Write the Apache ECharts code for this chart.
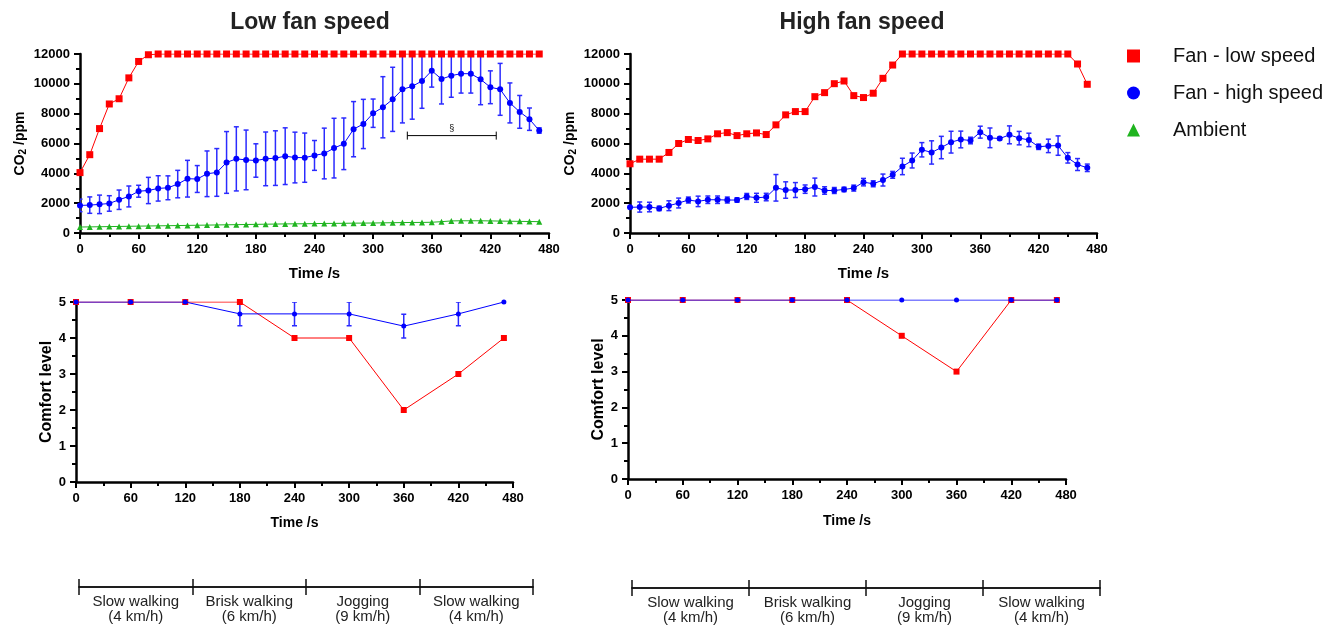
<!DOCTYPE html>
<html>
<head>
<meta charset="utf-8">
<title>CO2 and comfort level vs time</title>
<script src="https://cdn.jsdelivr.net/npm/echarts@6/dist/echarts.min.js"></script>
<style>
  html, body { margin: 0; padding: 0; background: #fff; }
  #chart { width: 1327px; height: 625px; }
</style>
</head>
<body>
<div id="chart"></div>
<script>
// sampling times of the CO2 traces, s
var times = [0,10,20,30,40,50,60,70,80,90,100,110,120,130,140,150,160,170,180,190,
  200,210,220,230,240,250,260,270,280,290,300,310,320,330,340,350,360,370,380,390,
  400,410,420,430,440,450,460,470];

// left panel (low fan speed)
var lowRed = [4050,5250,7000,8650,9000,10400,11500,11950,12000,12000,
  12000,12000,12000,12000,12000,12000,12000,12000,12000,12000,
  12000,12000,12000,12000,12000,12000,12000,12000,12000,12000,
  12000,12000,12000,12000,12000,12000,12000,12000,12000,12000,
  12000,12000,12000,12000,12000,12000,12000,12000];
var lowBlue = [1850,1870,1920,1980,2230,2450,2800,2850,2990,3030,
  3280,3640,3620,3970,4060,4730,4970,4900,4860,4970,
  5020,5150,5060,5050,5200,5330,5690,5980,6960,7310,
  8030,8430,8960,9630,9830,10190,10880,10320,10550,10680,
  10680,10300,9770,9630,8720,8120,7630,6870];
var lowBlueSd = [420,550,620,520,650,700,400,880,850,800,
  920,1230,900,1530,1600,2070,2150,2000,1120,1800,
  1830,1900,1700,1650,1000,1700,2000,1730,1850,1650,
  950,2050,2150,2250,2200,1830,1100,1670,1450,1300,
  1300,1700,1100,1740,1340,1100,750,180];
var lowAmbient = [400,410,420,430,440,450,460,470,480,490,
  500,510,520,530,540,550,560,570,580,590,
  600,610,615,620,630,640,645,650,660,665,
  670,680,690,700,705,710,720,760,810,820,
  820,820,810,800,790,780,770,760];
// § bracket: from, to, level
var sectionSpan = [[335, 426, 6530]];

// right panel (high fan speed)
var highRed = [4640,4950,4950,4950,5400,6000,6270,6200,6310,6650,
  6730,6530,6650,6710,6600,7250,7920,8140,8140,9140,
  9410,10010,10190,9210,9080,9370,10370,11260,12000,12000,
  12000,12000,12000,12000,12000,12000,12000,12000,12000,12000,
  12000,12000,12000,12000,12000,12000,11330,9970];
var highBlue = [1720,1740,1740,1650,1830,2010,2210,2120,2230,2230,
  2210,2210,2450,2360,2410,3030,2880,2880,2940,3080,
  2850,2850,2920,3010,3410,3300,3550,3900,4460,4860,
  5580,5400,5730,6090,6270,6200,6760,6380,6330,6580,
  6360,6240,5780,5840,5860,5040,4590,4370];
var highBlueSd = [50,340,320,150,330,330,200,350,250,250,
  200,150,200,300,250,890,550,500,280,600,
  250,200,150,200,250,200,400,230,550,500,
  480,780,750,730,560,220,400,660,80,600,
  450,450,180,450,650,350,400,250];

// comfort scores
var comfortTimes = [0,60,120,180,240,300,360,420,470];
var lowComfortRed = [5,5,5,5,4,4,2,3,4];
var lowComfortBlue = [5,5,5,4.67,4.67,4.67,4.33,4.67,5];
var lowComfortSd = [0,0,0,0.33,0.33,0.33,0.33,0.33,0];
var highComfortRed = [5,5,5,5,5,4,3,5,5];
var highComfortBlue = [5,5,5,5,5,5,5,5,5];

var phases = ['Slow walking\n(4 km/h)','Brisk walking\n(6 km/h)','Jogging\n(9 km/h)','Slow walking\n(4 km/h)'];

var RED = '#ff0000', BLUE = '#0000ff', GREEN = '#1fb41f';
var FONT = 'Liberation Sans, Arial, Helvetica, sans-serif';

function zip(xs, ys, zs) {
  var out = [];
  for (var i = 0; i < xs.length; i++) {
    out.push(zs ? [xs[i], ys[i], zs[i]] : [xs[i], ys[i]]);
  }
  return out;
}

function errorBar(params, api) {
  var sd = api.value(2);
  if (!sd) return null;
  var x = api.value(0), m = api.value(1);
  var hi = api.coord([x, m + sd]);
  var lo = api.coord([x, m - sd]);
  var w = 2.5;
  var st = { stroke: '#2b2bff', lineWidth: 1.5 };
  return { type: 'group', children: [
    { type: 'line', shape: { x1: hi[0], y1: hi[1], x2: lo[0], y2: lo[1] }, style: st },
    { type: 'line', shape: { x1: hi[0] - w, y1: hi[1], x2: hi[0] + w, y2: hi[1] }, style: st },
    { type: 'line', shape: { x1: lo[0] - w, y1: lo[1], x2: lo[0] + w, y2: lo[1] }, style: st }
  ]};
}

function sectionMark(params, api) {
  var a = api.coord([api.value(0), api.value(2)]);
  var b = api.coord([api.value(1), api.value(2)]);
  var st = { stroke: '#000', lineWidth: 1 };
  return { type: 'group', children: [
    { type: 'line', shape: { x1: a[0], y1: a[1], x2: b[0], y2: b[1] }, style: st },
    { type: 'line', shape: { x1: a[0], y1: a[1] - 4, x2: a[0], y2: a[1] + 4 }, style: st },
    { type: 'line', shape: { x1: b[0], y1: b[1] - 4, x2: b[0], y2: b[1] + 4 }, style: st },
    { type: 'text', x: (a[0] + b[0]) / 2, y: a[1] - 3,
      style: { text: '§', fontSize: 9, fill: '#000', align: 'center', verticalAlign: 'bottom', fontFamily: FONT } }
  ]};
}

var axisLine = { show: true, lineStyle: { color: '#000', width: 2.5 } };
var tickStyle = { show: true, length: 6, lineStyle: { color: '#000', width: 2 } };
var minorStyle = { show: true, splitNumber: 2, length: 4, lineStyle: { color: '#000', width: 2 } };
var tickLabel = { fontSize: 13, fontWeight: 'bold', color: '#000', margin: 10,
  formatter: function (v) { return String(v); } };

function timeAxis(grid, nameSize, gap) {
  return {
    type: 'value', gridIndex: grid, min: 0, max: 480, interval: 60,
    name: 'Time /s', nameLocation: 'middle', nameGap: gap,
    nameTextStyle: { fontSize: nameSize, fontWeight: 'bold', color: '#000' },
    axisLine: axisLine, axisTick: tickStyle, minorTick: minorStyle,
    splitLine: { show: false },
    axisLabel: tickLabel
  };
}

function co2Axis(grid) {
  return {
    type: 'value', gridIndex: grid, min: 0, max: 12000, interval: 2000,
    name: '{b|CO}{s|2}{b| /ppm}', nameLocation: 'middle', nameGap: 52, nameRotate: 90,
    nameTextStyle: { rich: {
      b: { fontSize: 14, fontWeight: 'bold', color: '#000' },
      s: { fontSize: 10, fontWeight: 'bold', color: '#000', verticalAlign: 'bottom', padding: [6, 0, 0, 0] }
    } },
    axisLine: axisLine, axisTick: tickStyle, minorTick: minorStyle,
    splitLine: { show: false },
    axisLabel: tickLabel
  };
}

function comfortAxis(grid) {
  return {
    type: 'value', gridIndex: grid, min: 0, max: 5, interval: 1,
    name: 'Comfort level', nameLocation: 'middle', nameGap: 18, nameRotate: 90,
    nameTextStyle: { fontSize: 16, fontWeight: 'bold', color: '#000' },
    axisLine: axisLine, axisTick: tickStyle, minorTick: minorStyle,
    splitLine: { show: false },
    axisLabel: tickLabel
  };
}

function phaseAxis(grid, pos) {
  return {
    type: 'category', gridIndex: grid, position: pos, data: phases, boundaryGap: true,
    axisLine: { show: true, lineStyle: { color: '#111', width: 1.5 } },
    axisTick: { show: true, alignWithLabel: false, interval: 0, length: 8, lineStyle: { color: '#111', width: 1.5 } },
    axisLabel: { show: pos === 'bottom', interval: 0, fontSize: 15, lineHeight: 15, color: '#222', margin: 7 },
    splitLine: { show: false }
  };
}

function lineSeries(name, xi, yi, data, symbol, size, color, z) {
  return {
    name: name, type: 'line', xAxisIndex: xi, yAxisIndex: yi, data: data,
    symbol: symbol, symbolSize: size, z: z,
    itemStyle: { color: color }, lineStyle: { color: color, width: 1 },
    emphasis: { disabled: true }
  };
}

function errorSeries(xi, yi, data) {
  return {
    name: 'sd', type: 'custom', xAxisIndex: xi, yAxisIndex: yi, data: data,
    renderItem: errorBar, encode: { x: 0, y: 1 }, clip: true, z: 3, silent: true
  };
}

var chart = echarts.init(document.getElementById('chart'));
chart.setOption({
  animation: false,
  textStyle: { fontFamily: FONT },
  title: [
    { text: 'Low fan speed', left: 310, top: 11, textAlign: 'center', padding: 0,
      textStyle: { fontSize: 23, fontWeight: 'bold', color: '#222' } },
    { text: 'High fan speed', left: 862, top: 11, textAlign: 'center', padding: 0,
      textStyle: { fontSize: 23, fontWeight: 'bold', color: '#222' } }
  ],
  legend: {
    orient: 'vertical', left: 1127, top: 46, padding: 0, itemGap: 17,
    itemWidth: 13, itemHeight: 13, selectedMode: false,
    formatter: function (n) { return '{g| }' + n; },
    textStyle: { fontSize: 20, lineHeight: 20, color: '#111', rich: { g: { width: 28 } } },
    data: [
      { name: 'Fan - low speed', icon: 'rect' },
      { name: 'Fan - high speed', icon: 'circle' },
      { name: 'Ambient', icon: 'triangle' }
    ]
  },
  grid: [
    { left: 80, top: 54, width: 469, height: 179, outerBoundsMode: 'none' },
    { left: 630, top: 54, width: 467, height: 179, outerBoundsMode: 'none' },
    { left: 76, top: 302, width: 437, height: 180, outerBoundsMode: 'none' },
    { left: 628, top: 300, width: 438, height: 179, outerBoundsMode: 'none' },
    { left: 79, top: 587, width: 454, height: 0, outerBoundsMode: 'none' },
    { left: 632, top: 588, width: 468, height: 0, outerBoundsMode: 'none' }
  ],
  xAxis: [
    timeAxis(0, 15, 33), timeAxis(1, 15, 33), timeAxis(2, 14, 34), timeAxis(3, 14, 35),
    phaseAxis(4, 'bottom'), phaseAxis(4, 'top'), phaseAxis(5, 'bottom'), phaseAxis(5, 'top')
  ],
  yAxis: [
    co2Axis(0), co2Axis(1), comfortAxis(2), comfortAxis(3),
    { type: 'value', gridIndex: 4, show: false },
    { type: 'value', gridIndex: 5, show: false }
  ],
  series: [
    // low fan speed CO2
    lineSeries('Fan - low speed', 0, 0, zip(times, lowRed), 'rect', 7, RED, 5),
    lineSeries('Fan - high speed', 0, 0, zip(times, lowBlue), 'circle', 6, BLUE, 4),
    errorSeries(0, 0, zip(times, lowBlue, lowBlueSd)),
    lineSeries('Ambient', 0, 0, zip(times, lowAmbient), 'triangle', 6, GREEN, 3),
    { name: 'section', type: 'custom', xAxisIndex: 0, yAxisIndex: 0, data: sectionSpan,
      renderItem: sectionMark, encode: { x: [0, 1], y: 2 }, z: 6, silent: true },
    // high fan speed CO2
    lineSeries('Fan - low speed', 1, 1, zip(times, highRed), 'rect', 7, RED, 5),
    lineSeries('Fan - high speed', 1, 1, zip(times, highBlue), 'circle', 6, BLUE, 4),
    errorSeries(1, 1, zip(times, highBlue, highBlueSd)),
    // comfort, low fan speed
    lineSeries('Fan - low speed', 2, 2, zip(comfortTimes, lowComfortRed), 'rect', 6, RED, 4),
    lineSeries('Fan - high speed', 2, 2, zip(comfortTimes, lowComfortBlue), 'circle', 5, BLUE, 5),
    errorSeries(2, 2, zip(comfortTimes, lowComfortBlue, lowComfortSd)),
    // comfort, high fan speed
    lineSeries('Fan - low speed', 3, 3, zip(comfortTimes, highComfortRed), 'rect', 6, RED, 4),
    lineSeries('Fan - high speed', 3, 3, zip(comfortTimes, highComfortBlue), 'circle', 5, BLUE, 5)
  ]
});
</script>
</body>
</html>
